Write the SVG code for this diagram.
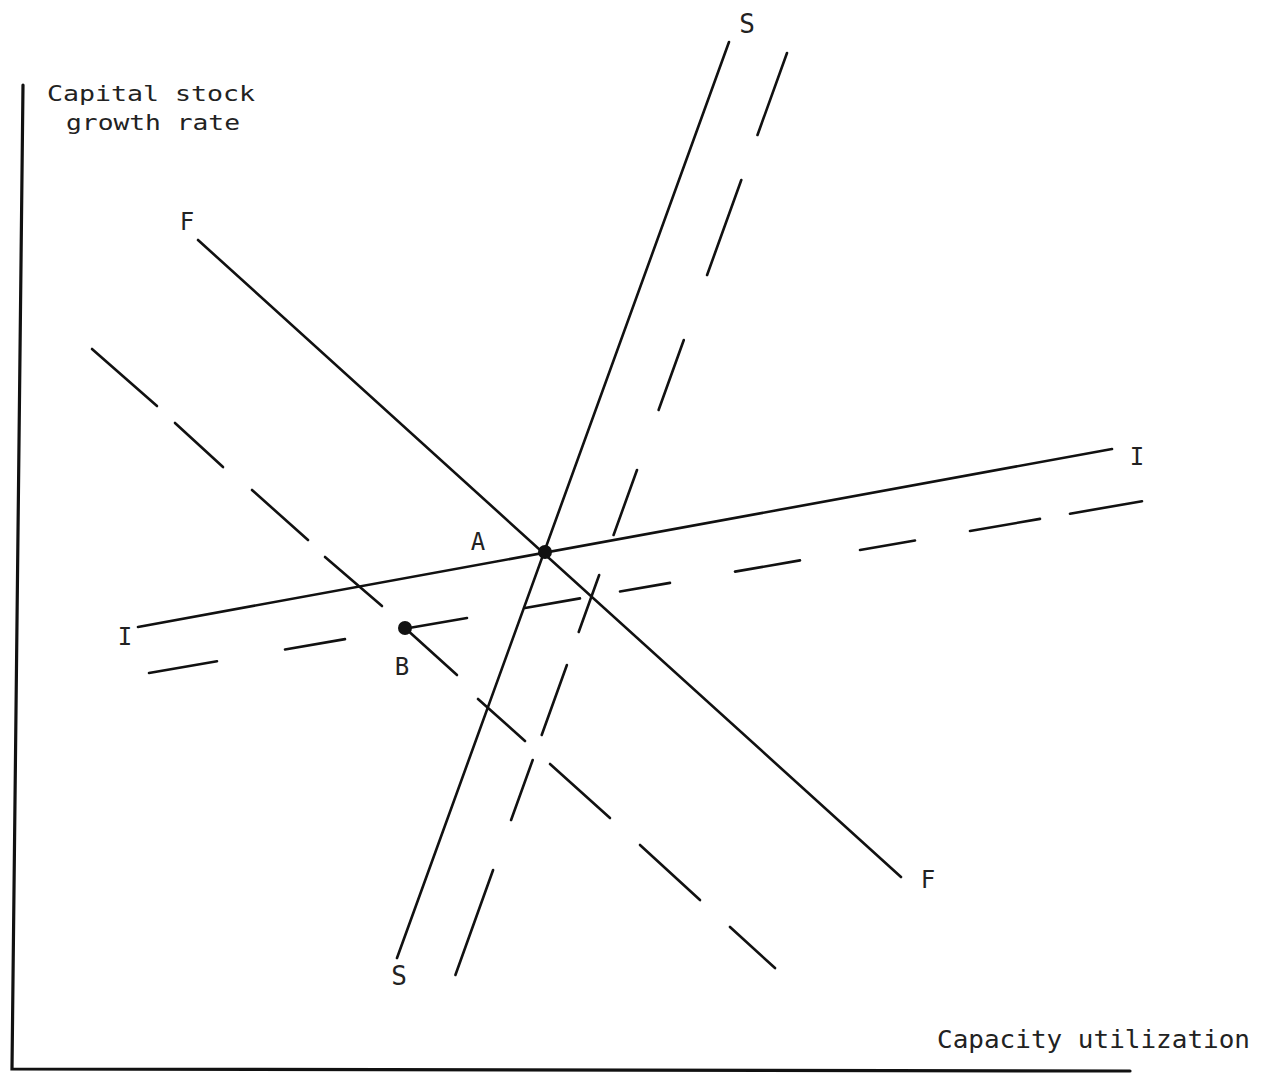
<svg xmlns="http://www.w3.org/2000/svg" width="1264" height="1074" viewBox="0 0 1264 1074">
  <style>
    .ax { stroke: #111; stroke-width: 3.2; fill: none; stroke-linecap: round; }
    .ln { stroke: #111; stroke-width: 2.6; fill: none; stroke-linecap: round; }
    .lbl { font-family: "DejaVu Sans Mono", "Liberation Mono", monospace; fill: #222; }
    .pt { fill: #111; }
  </style>
  <rect width="1264" height="1074" fill="#fff"/>

  <g id="axes">
    <path class="ax" d="M23,85 L12,1069 L1130,1071"/>
  </g>

  <g id="connectors">
    <g id="S-solid"><line class="ln" x1="729" y1="42" x2="397" y2="958"/></g>
    <g id="F-solid"><line class="ln" x1="198" y1="240" x2="901" y2="877"/></g>
    <g id="I-solid"><line class="ln" x1="138" y1="627" x2="1112" y2="449"/></g>
    <g id="S-dashed">
      <line class="ln" x1="787" y1="53" x2="757.5" y2="135"/>
      <line class="ln" x1="741.3" y1="180" x2="707.1" y2="275"/>
      <line class="ln" x1="683.8" y1="340" x2="658.6" y2="410"/>
      <line class="ln" x1="637" y1="470" x2="613.6" y2="535"/>
      <line class="ln" x1="599.2" y1="575" x2="578.7" y2="632"/>
      <line class="ln" x1="566.9" y1="665" x2="541.7" y2="735"/>
      <line class="ln" x1="532.7" y1="760" x2="511.1" y2="820"/>
      <line class="ln" x1="493.1" y1="870" x2="455.4" y2="975"/>
    </g>
    <g id="F-dashed">
      <line class="ln" x1="92" y1="349" x2="157" y2="406"/>
      <line class="ln" x1="175" y1="423" x2="223" y2="467"/>
      <line class="ln" x1="252" y1="490" x2="308" y2="540"/>
      <line class="ln" x1="325" y1="557" x2="382" y2="606"/>
      <line class="ln" x1="405" y1="628" x2="457" y2="675"/>
      <line class="ln" x1="478" y1="699" x2="525" y2="741"/>
      <line class="ln" x1="550" y1="764" x2="610" y2="818"/>
      <line class="ln" x1="640" y1="845" x2="700" y2="900"/>
      <line class="ln" x1="730" y1="927" x2="775" y2="968"/>
    </g>
    <g id="I-dashed">
      <line class="ln" x1="149" y1="673" x2="217" y2="661.2"/>
      <line class="ln" x1="285" y1="649.5" x2="345" y2="639.1"/>
      <line class="ln" x1="406" y1="628.5" x2="467" y2="618"/>
      <line class="ln" x1="525" y1="608" x2="580" y2="598.4"/>
      <line class="ln" x1="620" y1="591.5" x2="670" y2="582.9"/>
      <line class="ln" x1="735" y1="571.6" x2="800" y2="560.4"/>
      <line class="ln" x1="860" y1="550" x2="915" y2="540.5"/>
      <line class="ln" x1="970" y1="531" x2="1040" y2="518.9"/>
      <line class="ln" x1="1070" y1="513.7" x2="1142" y2="501.2"/>
    </g>
  </g>

  <g id="node-A">
    <circle class="pt" cx="545" cy="552" r="7"/>
    <text class="lbl" x="478" y="550" font-size="24" text-anchor="middle">A</text>
  </g>
  <g id="node-B">
    <circle class="pt" cx="405" cy="628" r="7"/>
    <text class="lbl" x="402" y="675" font-size="24" text-anchor="middle">B</text>
  </g>

  <g id="labels">
    <text class="lbl" x="747" y="33" font-size="26" text-anchor="middle">S</text>
    <text class="lbl" x="399" y="985" font-size="26" text-anchor="middle">S</text>
    <text class="lbl" x="187" y="230" font-size="24" text-anchor="middle">F</text>
    <text class="lbl" x="928" y="888" font-size="24" text-anchor="middle">F</text>
    <text class="lbl" x="1137" y="465" font-size="24" text-anchor="middle">I</text>
    <text class="lbl" x="125" y="645" font-size="24" text-anchor="middle">I</text>
    <text class="lbl" x="47" y="101" font-size="22" textLength="208" lengthAdjust="spacingAndGlyphs">Capital stock</text>
    <text class="lbl" x="66" y="130" font-size="22" textLength="174" lengthAdjust="spacingAndGlyphs">growth rate</text>
    <text class="lbl" x="937" y="1048" font-size="24" textLength="313" lengthAdjust="spacingAndGlyphs">Capacity utilization</text>
  </g>
</svg>
